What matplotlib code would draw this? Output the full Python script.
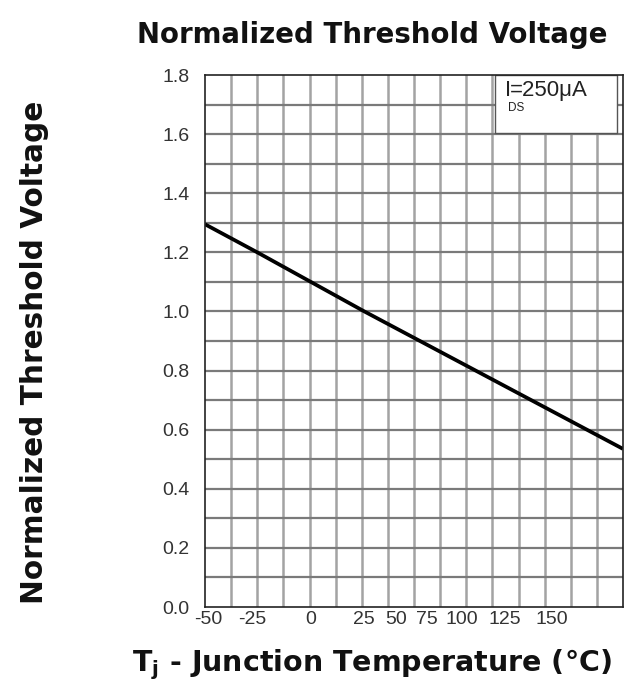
import numpy as np
import matplotlib
matplotlib.use("Agg")
import matplotlib.pyplot as plt

plt.rcParams['font.family'] = ['Liberation Sans', 'DejaVu Sans']
plt.rcParams['mathtext.fontset'] = 'custom'
plt.rcParams['mathtext.rm'] = 'Liberation Sans'
plt.rcParams['mathtext.bf'] = 'Liberation Sans:bold'
plt.rcParams['mathtext.default'] = 'regular'

# Horizontal axis is laid out in 16 grid divisions; temperature labels sit at
# their printed positions along those divisions.
temp_labels = ["-50", "-25", "0", "25", "50", "75", "100", "125", "150"]
temp_label_pos = [0.12, 1.8, 4.05, 6.08, 7.3, 8.5, 9.84, 11.48, 13.28]
n_divisions = 16

# Normalized threshold voltage curve (grid position, value)
curve_x = [0.0, 2.0, 6.1, 16.0]
curve_y = [1.295, 1.20, 1.00, 0.535]

y_ticks = [0.0, 0.2, 0.4, 0.6, 0.8, 1.0, 1.2, 1.4, 1.6, 1.8]
y_labels = ["0.0", "0.2", "0.4", "0.6", "0.8", "1.0", "1.2", "1.4", "1.6", "1.8"]

fig = plt.figure(figsize=(6.29, 6.92), dpi=100)
ax = fig.add_axes([205 / 629, 1 - 607 / 692, (623 - 205) / 629, (607 - 75) / 692])

ax.set_xlim(0, n_divisions)
ax.set_ylim(0, 1.8)

# grid lines
for gx in range(1, n_divisions):
    ax.axvline(gx, color='#a3a3a3', lw=1.8, zorder=1)
for gy in np.arange(0.1, 1.8, 0.1):
    ax.axhline(gy, color='#7a7a7a', lw=1.6, zorder=1)

ax.plot(curve_x, curve_y, color='black', lw=2.7, zorder=3, solid_capstyle='butt')

ax.set_xticks(temp_label_pos)
ax.set_xticklabels(temp_labels)
ax.set_yticks(y_ticks)
ax.set_yticklabels(y_labels)
ax.tick_params(axis='both', length=0, labelsize=14, colors='#333333')
ax.tick_params(axis='x', pad=3)
ax.tick_params(axis='y', pad=11)

for s in ax.spines.values():
    s.set_color('#222222')
    s.set_linewidth(1.2)
    s.set_zorder(4)

# condition box in the upper right corner
box_x0 = (495 - 205) / 26.125
box_x1 = (617 - 205) / 26.125
ax.fill_between([box_x0, box_x1], 1.605, 1.8, color='white', zorder=2,
                edgecolor='#555555', linewidth=1.0)
ax.text(box_x0 + 0.38, 1.749, "I", fontsize=16,
        color='#222222', va='center', ha='left', zorder=5)
ax.text(box_x0 + 0.58, 1.749, "=250\u03bcA", fontsize=16,
        color='#222222', va='center', ha='left', zorder=5)
ax.text(box_x0 + 0.5, 1.69, "DS", fontsize=8.5,
        color='#222222', va='center', ha='left', zorder=5)

title_font = ['DejaVu Sans']
fig.text(372 / 629, 1 - 35 / 692, "Normalized Threshold Voltage",
         fontsize=19.9, fontweight='bold', ha='center', va='center', color='#111111',
         family=title_font)
fig.text(35 / 629, 1 - 352 / 692, "Normalized Threshold Voltage",
         fontsize=21.3, fontweight='bold', ha='center', va='center', rotation=90,
         color='#111111', family=title_font)
fig.text(372 / 629, 1 - 665 / 692, r"T$_{j}$ - Junction Temperature (°C)",
         fontsize=20.5, fontweight='bold', ha='center', va='center', color='#111111',
         family=title_font)

fig.savefig("out.png", dpi=100, facecolor='white')
